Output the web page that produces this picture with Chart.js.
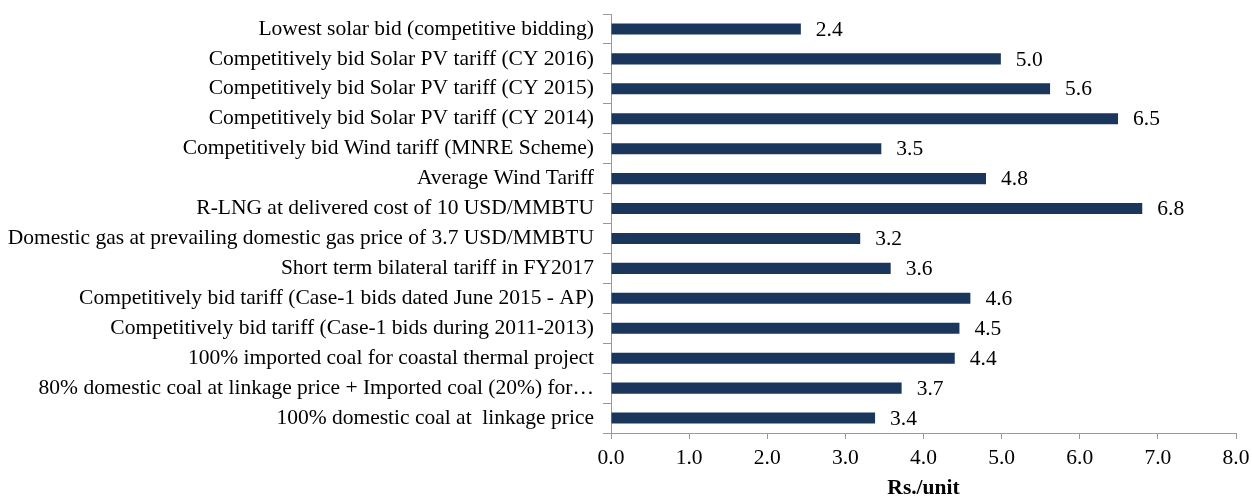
<!DOCTYPE html>
<html>
<head>
<meta charset="utf-8">
<script src="https://cdn.jsdelivr.net/npm/chart.js@4"></script>
<style>
  html, body { margin: 0; padding: 0; background: #fff; }
  #wrap { width: 1252px; height: 496px; position: relative; }
</style>
</head>
<body>
<div id="wrap"><canvas id="tariffChart"></canvas></div>
<script>
const categories = [
    'Lowest solar bid (competitive bidding)',
    'Competitively bid Solar PV tariff (CY 2016)',
    'Competitively bid Solar PV tariff (CY 2015)',
    'Competitively bid Solar PV tariff (CY 2014)',
    'Competitively bid Wind tariff (MNRE Scheme)',
    'Average Wind Tariff',
    'R-LNG at delivered cost of 10 USD/MMBTU',
    'Domestic gas at prevailing domestic gas price of 3.7 USD/MMBTU',
    'Short term bilateral tariff in FY2017',
    'Competitively bid tariff (Case-1 bids dated June 2015 - AP)',
    'Competitively bid tariff (Case-1 bids during 2011-2013)',
    '100% imported coal for coastal thermal project',
    '80% domestic coal at linkage price + Imported coal (20%) for\u2026',
    '100% domestic coal at  linkage price'
];
const tariffValues = [2.43, 4.99, 5.62, 6.49, 3.46, 4.8, 6.8, 3.19, 3.58, 4.6, 4.46, 4.4, 3.72, 3.38];
const xTicks = [0, 1, 2, 3, 4, 5, 6, 7, 8];

const serif = "'Liberation Serif', 'Times New Roman', serif";
const fontSize = 21.5;

// draws the value text just after the end of each bar
const valueLabels = {
    id: 'valueLabels',
    afterDatasetsDraw(chart) {
        const ctx = chart.ctx;
        const meta = chart.getDatasetMeta(0);
        ctx.save();
        ctx.font = fontSize + 'px ' + serif;
        ctx.fillStyle = '#000';
        ctx.textAlign = 'left';
        ctx.textBaseline = 'middle';
        meta.data.forEach(function(bar, i) {
            ctx.fillText(tariffValues[i].toFixed(1), bar.x + 15, bar.y + 1);
        });
        ctx.restore();
    }
};

const ctx = document.getElementById('tariffChart').getContext('2d');
new Chart(ctx, {
    type: 'bar',
    data: {
        labels: categories,
        datasets: [{
            data: tariffValues,
            backgroundColor: '#1a365d',
            borderWidth: 0,
            barPercentage: 0.74,
            categoryPercentage: 0.5
        }]
    },
    options: {
        indexAxis: 'y',
        responsive: true,
        maintainAspectRatio: false,
        animation: false,
        layout: {
            padding: { top: 14, right: 16, left: 0, bottom: 0 }
        },
        plugins: {
            legend: { display: false },
            tooltip: { enabled: false }
        },
        scales: {
            x: {
                min: 0,
                max: 8,
                afterBuildTicks: function(scale) {
                    scale.ticks = xTicks.map(v => ({ value: v }));
                },
                afterFit: function(scale) {
                    scale.height = 63;
                    scale.paddingLeft = 0;
                    scale.paddingRight = 0;
                },
                grid: {
                    drawOnChartArea: false,
                    tickLength: 6,
                    color: '#999'
                },
                border: { color: '#999', width: 1 },
                ticks: {
                    padding: 6,
                    color: '#000',
                    font: { family: serif, size: fontSize },
                    callback: function(value) { return Number(value).toFixed(1); }
                },
                title: {
                    display: true,
                    text: 'Rs./unit',
                    color: '#000',
                    padding: { top: 0, bottom: -5 },
                    font: { family: serif, size: fontSize, weight: 'bold' }
                }
            },
            y: {
                afterFit: function(scale) {
                    scale.width = 611;
                    scale.paddingTop = 0;
                    scale.paddingBottom = 0;
                },
                grid: {
                    drawOnChartArea: false,
                    offset: true,
                    tickLength: 8,
                    color: '#999'
                },
                border: { color: '#999', width: 1 },
                ticks: {
                    padding: 9,
                    color: '#000',
                    autoSkip: false,
                    font: { family: serif, size: fontSize }
                }
            }
        }
    },
    plugins: [valueLabels]
});
</script>
</body>
</html>
